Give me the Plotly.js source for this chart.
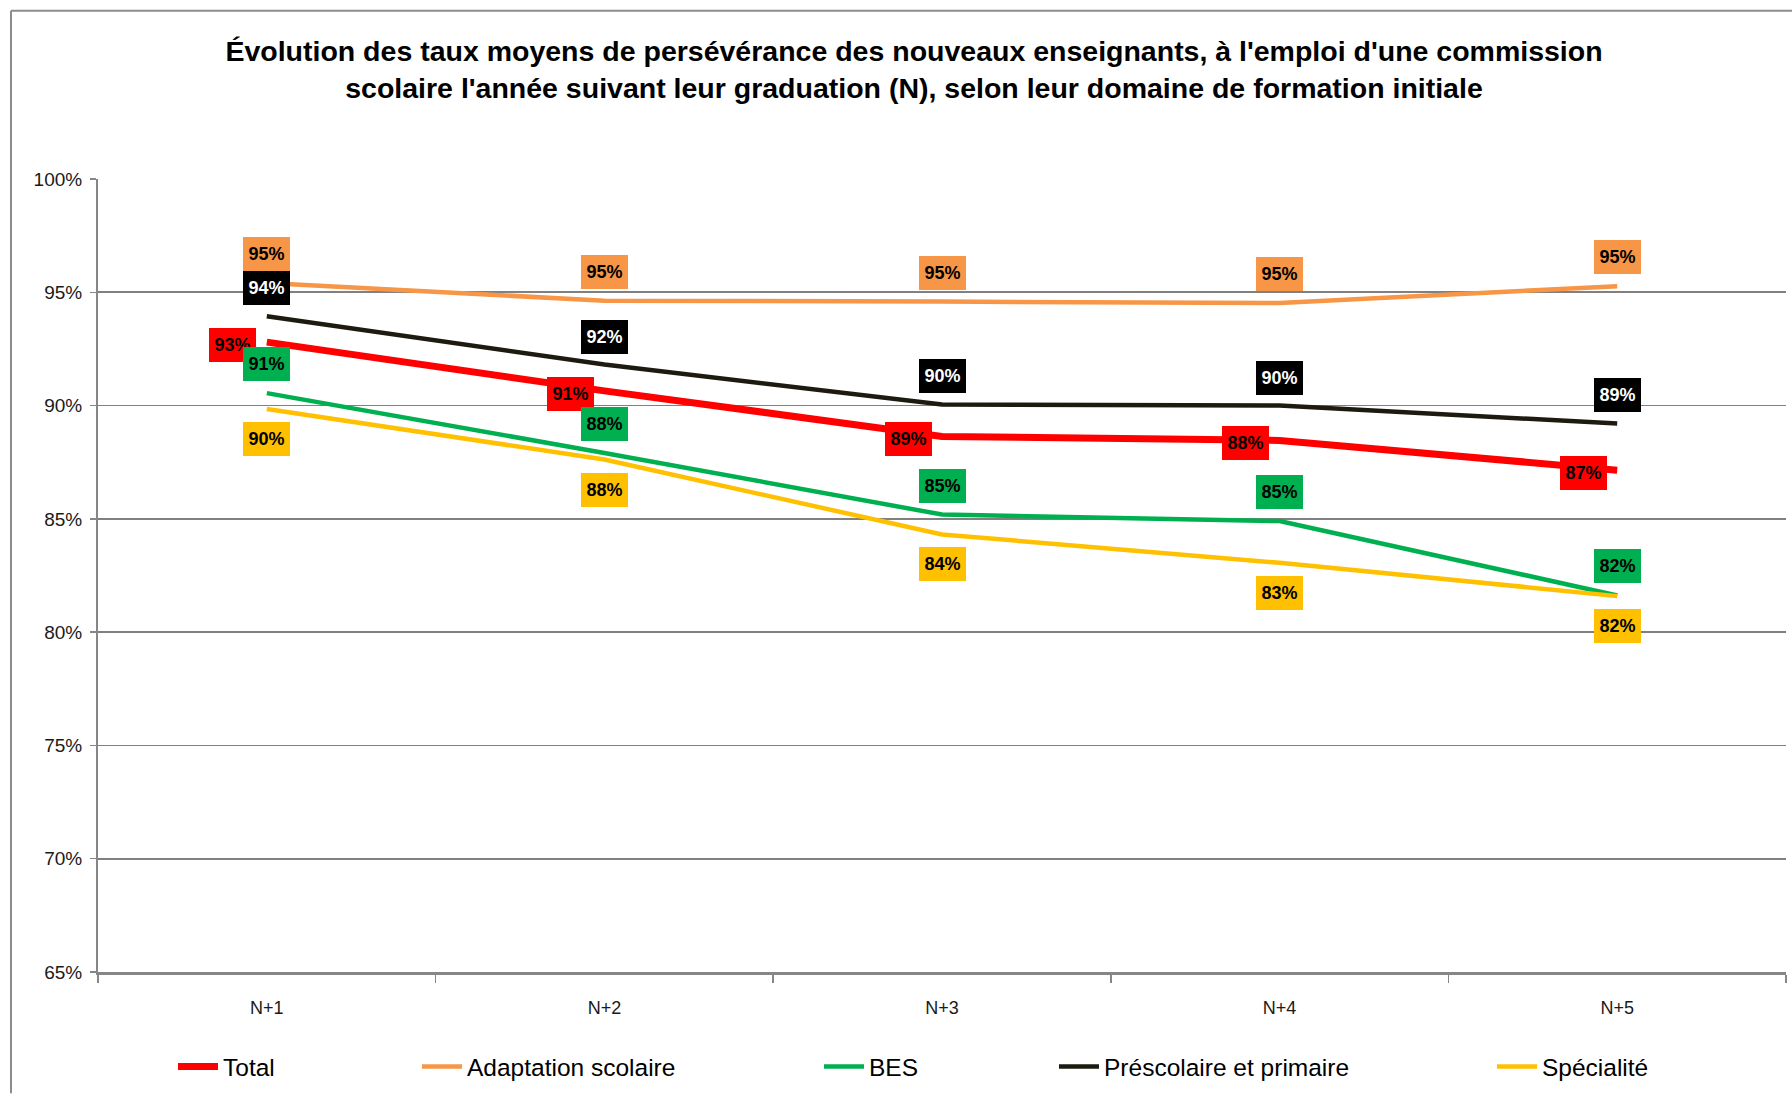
<!DOCTYPE html>
<html>
<head>
<meta charset="utf-8">
<script src="https://cdn.plot.ly/plotly-3.0.1.min.js"></script>
<style>
html,body{margin:0;padding:0;background:#fff;}
#chart{width:1792px;height:1094px;}
</style>
</head>
<body>
<div id="chart"></div>
<script>
const categories = ['N+1', 'N+2', 'N+3', 'N+4', 'N+5'];
const seriesNames = ['Total', 'Adaptation scolaire', 'BES', 'Préscolaire et primaire', 'Spécialité'];
const total       = [92.8, 90.65, 88.64, 88.46, 87.15];
const adaptation  = [95.41, 94.63, 94.59, 94.53, 95.27];
const bes         = [90.55, 87.91, 85.19, 84.9, 81.62];
const prescolaire = [93.94, 91.81, 90.05, 90.0, 89.21];
const specialite  = [89.85, 87.62, 84.31, 83.06, 81.59];
const yTickVals   = [65, 70, 75, 80, 85, 90, 95, 100];
const yTickText   = ['65%', '70%', '75%', '80%', '85%', '90%', '95%', '100%'];
const titleLines  = ["Évolution des taux moyens de persévérance des nouveaux enseignants, à l'emploi d'une commission",
                     "scolaire l'année suivant leur graduation (N), selon leur domaine de formation initiale"];

const allValues = [total, adaptation, bes, prescolaire, specialite];
const colors = ['#FF0000', '#F79646', '#00B050', '#1D1B10', '#FFC000'];
const widths = [7, 4.5, 4.5, 4.5, 4.5];
const labelBg = ['#FF0000', '#F79646', '#00B050', '#000000', '#FFC000'];
const labelFg = ['#000000', '#000000', '#000000', '#FFFFFF', '#000000'];
const labelShift = [[-34, -3], [0, 29], [0, 29], [0, 28], [0, -30]];
const legendIds = ['legend', 'legend2', 'legend3', 'legend4', 'legend5'];
const legendX = [173, 417, 819, 1054, 1492];

const L = 98, R = 6, T = 179.4, B = 121.4, W = 1792, H = 1094;
const pw = W - L - R, ph = H - T - B;
const FONT = 'Liberation Sans, Arial, sans-serif';

const traces = allValues.map((vals, k) => ({
  type: 'scatter', mode: 'lines', name: seriesNames[k],
  x: categories, y: vals,
  line: {color: colors[k], width: widths[k]},
  legend: legendIds[k], hoverinfo: 'skip'
}));

const annotations = [];
allValues.forEach((vals, k) => {
  vals.forEach((v, i) => {
    annotations.push({
      x: categories[i], y: v, xref: 'x', yref: 'y',
      text: Math.round(v) + '%', showarrow: false,
      bgcolor: labelBg[k], borderwidth: 0, borderpad: 0,
      width: 47, height: 34,
      font: {family: FONT, size: 18, color: labelFg[k], weight: 700},
      xshift: labelShift[k][0], yshift: labelShift[k][1]
    });
  });
});

const layout = {
  width: W, height: H,
  margin: {l: L, r: R, t: T, b: B},
  paper_bgcolor: '#FFFFFF', plot_bgcolor: '#FFFFFF',
  showlegend: true,
  title: {
    text: titleLines.join('<br>'),
    font: {family: FONT, size: 28.5, color: '#000000', weight: 700},
    xref: 'container', yref: 'container', x: 914 / W, y: 1 - 61 / H,
    xanchor: 'center', yanchor: 'middle'
  },
  xaxis: {
    type: 'category', range: [-0.5, 4.5],
    showgrid: false, zeroline: false,
    showline: true, linecolor: '#868686', linewidth: 2.5,
    ticks: 'outside', tickson: 'boundaries', ticklen: 8, tickwidth: 1.5, tickcolor: '#868686',
    tickfont: {family: FONT, size: 18, color: '#1a1a1a'},
    ticklabelstandoff: 18
  },
  yaxis: {
    range: [65, 100], tickvals: yTickVals, ticktext: yTickText,
    showgrid: true, gridcolor: '#808080', gridwidth: 1.6,
    zeroline: false, showline: true, linecolor: '#868686', linewidth: 2,
    ticks: 'outside', ticklen: 6, tickwidth: 1.5, tickcolor: '#868686',
    tickfont: {family: FONT, size: 19, color: '#1a1a1a'},
    ticklabelstandoff: 4
  },
  annotations: annotations,
  shapes: [
    {type: 'line', xref: 'paper', yref: 'paper',
     x0: (11 - L) / pw, x1: (11 - L) / pw, y0: -B / ph, y1: 1 + (T - 11) / ph,
     line: {color: '#8c8c8c', width: 2}},
    {type: 'line', xref: 'paper', yref: 'paper',
     x0: (11 - L) / pw, x1: (W - L) / pw, y0: 1 + (T - 11) / ph, y1: 1 + (T - 11) / ph,
     line: {color: '#8c8c8c', width: 2}}
  ]
};
legendIds.forEach((id, k) => {
  layout[id] = {
    orientation: 'h', x: (legendX[k] - L) / pw, xanchor: 'left',
    y: -(1066 - (H - B)) / ph, yanchor: 'middle',
    bgcolor: 'rgba(0,0,0,0)', borderwidth: 0, itemwidth: 40,
    font: {family: FONT, size: 24.5, color: '#000000'}
  };
});

Plotly.newPlot('chart', traces, layout, {displayModeBar: false, staticPlot: true});
</script>
</body>
</html>
